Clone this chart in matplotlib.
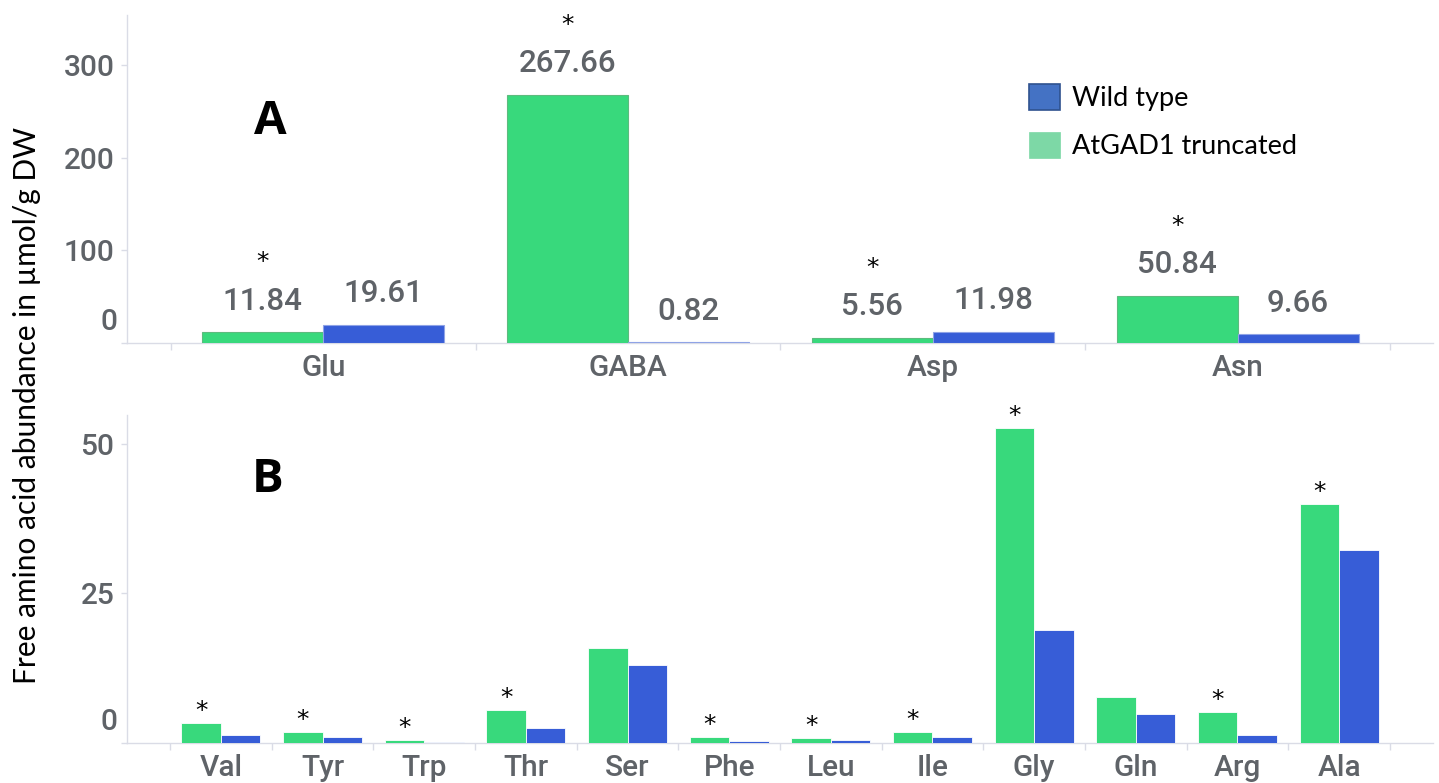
import matplotlib
matplotlib.use("Agg")
import matplotlib.pyplot as plt
import numpy as np
from matplotlib.patches import Patch

# ---------------- data ----------------
cats_a = ["Glu", "GABA", "Asp", "Asn"]
trunc_a = [11.84, 267.66, 5.56, 50.84]
wild_a = [19.61, 0.82, 11.98, 9.66]
sig_a = [True, True, True, True]

cats_b = ["Val", "Tyr", "Trp", "Thr", "Ser", "Phe", "Leu", "Ile", "Gly", "Gln", "Arg", "Ala"]
trunc_b = [3.3, 1.8, 0.5, 5.5, 15.9, 1.05, 0.8, 1.8, 52.7, 7.75, 5.25, 40.0]
wild_b = [1.35, 1.05, 0.22, 2.45, 13.0, 0.33, 0.45, 0.95, 18.8, 4.85, 1.3, 32.3]
sig_b = [True, True, True, True, False, True, True, True, True, False, True, True]

yticks_a = [0, 100, 200, 300]
yticks_b = [0, 25, 50]

legend_labels = ["Wild type", "AtGAD1 truncated"]
ylabel = "Free amino acid abundance in µmol/g DW"

# ---------------- style ----------------
GREEN = "#38D97C"
BLUE = "#375DD7"
GRAY = "#5F6368"
SPINE = "#DADCE6"
NUMFONT = "Roboto"
TXTFONT = "Lato"
NUMW = 500

W, H = 1439, 783
fig = plt.figure(figsize=(W / 100, H / 100), dpi=100)


def px_rect(l, t, r, b):
    return [l / W, 1 - b / H, (r - l) / W, (b - t) / H]


axA = fig.add_axes(px_rect(127, 15, 1433, 343))
axB = fig.add_axes(px_rect(127, 415, 1433, 743))


def style_axis(ax, cats, yticks, ymax, xl, xr):
    n = len(cats)
    ax.set_xlim(xl, xr)
    ax.set_ylim(0, ymax)
    for s in ["top", "right"]:
        ax.spines[s].set_visible(False)
    for s in ["left", "bottom"]:
        ax.spines[s].set_color(SPINE)
        ax.spines[s].set_linewidth(1.0)
    ax.set_xticks(np.arange(n))
    ax.set_xticklabels(cats, fontfamily=NUMFONT, fontsize=21.5, color=GRAY, fontweight=NUMW)
    ax.set_xticks(np.arange(n + 1) - 0.5, minor=True)
    ax.tick_params(axis="x", which="major", length=0, pad=8)
    ax.tick_params(axis="x", which="minor", length=5, color=SPINE, width=1)
    ax.set_yticks(yticks)
    ax.set_yticklabels([str(t) if t != 0 else "" for t in yticks],
                       fontfamily=NUMFONT, fontsize=21.5, color=GRAY, fontweight=NUMW)
    ax.tick_params(axis="y", length=4, color=SPINE, width=1, pad=5)
    # zero label drawn slightly above the baseline
    ax.annotate("0", xy=(0, 0), xycoords=("axes fraction", "data"),
                xytext=(-10, 21), textcoords="offset pixels",
                ha="right", va="center", fontfamily=NUMFONT, fontsize=21.5,
                fontweight=NUMW, color=GRAY, annotation_clip=False)


# ---------------- panel A ----------------
xa = np.arange(len(cats_a))
wa = 0.397
style_axis(axA, cats_a, yticks_a, 354, -0.644, 3.641)
axA.bar(xa - wa / 2, trunc_a, wa, color=GREEN, edgecolor="#5DBB7E", linewidth=0.8, zorder=3)
axA.bar(xa + wa / 2, wild_a, wa, color=BLUE, edgecolor="#8FA3E6", linewidth=0.8, zorder=3)
for i in range(len(cats_a)):
    axA.annotate(f"{trunc_a[i]:.2f}", xy=(xa[i] - wa / 2, trunc_a[i]),
                 xytext=(0, 31), textcoords="offset pixels", ha="center", va="center",
                 fontfamily=NUMFONT, fontsize=22.5, fontweight=NUMW, color=GRAY)
    axA.annotate(f"{wild_a[i]:.2f}", xy=(xa[i] + wa / 2, wild_a[i]),
                 xytext=(0, 31), textcoords="offset pixels", ha="center", va="center",
                 fontfamily=NUMFONT, fontsize=22.5, fontweight=NUMW, color=GRAY)
    if sig_a[i]:
        axA.annotate("*", xy=(xa[i] - wa / 2, trunc_a[i]),
                     xytext=(0, 70), textcoords="offset pixels", ha="center", va="center",
                     fontfamily="DejaVu Sans", fontsize=18, color="black", annotation_clip=False)

# ---------------- panel B ----------------
xb = np.arange(len(cats_b))
wb = 0.39
style_axis(axB, cats_b, yticks_b, 54.8, -0.923, 11.923)
axB.bar(xb - wb / 2, trunc_b, wb, color=GREEN, edgecolor="white", linewidth=0.6, zorder=3)
axB.bar(xb + wb / 2, wild_b, wb, color=BLUE, edgecolor="white", linewidth=0.6, zorder=3)
for i in range(len(cats_b)):
    if sig_b[i]:
        axB.annotate("*", xy=(xb[i] - wb / 2, trunc_b[i]),
                     xytext=(0, 12), textcoords="offset pixels", ha="center", va="center",
                     fontfamily="DejaVu Sans", fontsize=18, color="black", annotation_clip=False)

# ---------------- texts ----------------
fig.text(270 / W, 1 - 122 / H, "A", ha="center", va="center", fontsize=34,
         fontweight="bold", fontfamily="Open Sans", color="black")
fig.text(268 / W, 1 - 480 / H, "B", ha="center", va="center", fontsize=34,
         fontweight="bold", fontfamily="Open Sans", color="black")
fig.text(27 / W, 1 - 405 / H, ylabel, rotation=90, ha="center", va="center",
         fontsize=21.5, fontfamily=TXTFONT, color="black")

handles = [Patch(facecolor="#4472C4", edgecolor="#2F528F", linewidth=1.2),
           Patch(facecolor="#7DD8A6", edgecolor="#7DD8A6", linewidth=0.5)]
fig.legend(handles, legend_labels, loc="upper left",
           bbox_to_anchor=(1029 / W, 1 - 84 / H), frameon=False,
           prop={"family": TXTFONT, "size": 19.5}, handlelength=1.15, handleheight=1.1,
           handletextpad=0.45, labelspacing=0.75, borderpad=0, borderaxespad=0)

fig.savefig("out.png", dpi=100)
